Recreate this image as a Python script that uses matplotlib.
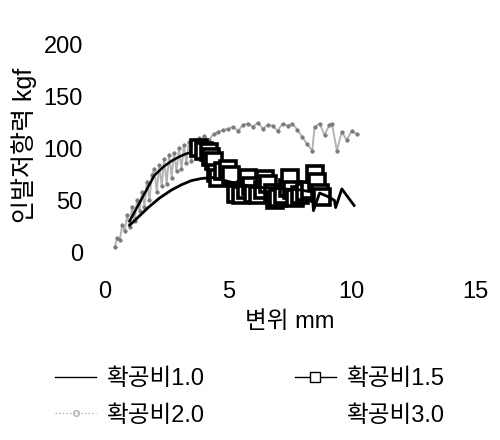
import matplotlib
matplotlib.use("Agg")
from matplotlib import pyplot as plt
from matplotlib.lines import Line2D

plt.rcParams['font.family'] = ['Liberation Sans', 'Noto Sans CJK KR']

# 확공비1.0 - solid black line
x_10 = [1.0, 1.4, 1.75, 2.2, 2.7, 3.1, 3.5, 3.9, 4.35, 4.7, 5.2, 5.8, 6.5, 7.2, 7.9, 8.4, 8.45, 8.7,
        9.0, 9.3, 9.35, 9.6, 10.1]
y_10 = [26, 35, 43, 52, 60, 65, 69, 71, 72, 70, 67, 64, 62, 61, 60, 58, 40, 57, 54, 50, 43, 61, 45]

# 확공비1.5 - black line with squares (squares only readable after the peak)
x_15 = [1.0, 1.5, 2.0, 2.4, 2.7, 3.0, 3.3, 3.6, 3.8, 4.0, 4.2, 4.3, 4.4, 4.5, 4.6, 4.8, 5.0, 5.1, 5.3,
        5.5, 5.7, 5.8, 5.9, 6.0, 6.2, 6.4, 6.5, 6.6, 6.8, 6.9, 7.0, 7.2, 7.4, 7.5, 7.6, 7.7, 7.9,
        8.1, 8.3, 8.5, 8.6, 8.7, 8.8]
y_15 = [30, 52, 74, 83, 88, 92, 95, 97, 100, 98, 97, 92, 88, 76, 72, 78, 80, 74, 56,
        55, 60, 72, 64, 56, 55, 60, 71, 66, 57, 50, 52, 55, 62, 72, 60, 52, 55,
        58, 60, 75, 68, 57, 53]
first_square = 8

# 확공비2.0 - grey stippled band
x_20 = [0.4, 0.5, 0.6, 0.7, 0.8, 0.9, 1.0, 1.1, 1.2, 1.3, 1.4, 1.5, 1.6, 1.7, 1.8, 1.9, 2.0, 2.1,
        2.2, 2.3, 2.4, 2.5, 2.6, 2.7, 2.8, 2.9, 3.0, 3.1, 3.2, 3.3, 3.4, 3.5, 3.6, 3.7, 3.8, 3.9,
        4.0, 4.2, 4.4, 4.6, 4.8, 5.0, 5.2, 5.4, 5.6, 5.8, 6.0, 6.2, 6.4, 6.6, 6.8, 7.0, 7.2, 7.4,
        7.6, 7.8, 8.0, 8.2, 8.4, 8.5, 8.7, 8.9, 9.1, 9.2, 9.4, 9.6, 9.8, 10.0, 10.2]
y_20 = [5, 14, 12, 26, 20, 36, 24, 44, 30, 50, 40, 58, 44, 68, 50, 74, 80, 58,
        84, 64, 90, 66, 94, 72, 96, 78, 100, 80, 103, 86, 106, 88, 108, 92, 110, 94,
        112, 108, 114, 116, 118, 119, 121, 117, 123, 124, 121, 125, 119,
        123, 122, 117, 124, 122, 124, 118, 111, 104, 98, 121, 124, 113, 123, 124, 98, 116,
        108, 117, 114]

# 확공비3.0 - not visible in the print
x_30 = []
y_30 = []

xticks = [0, 5, 10, 15]
yticks = [0, 50, 100, 150, 200]

fig = plt.figure(figsize=(5, 4.4), dpi=100)
ax = fig.add_axes([0.21, 0.427, 0.74, 0.471])

ax.plot(x_20, y_20, color="#b4b4b4", linestyle="-", linewidth=1.4,
        marker="o", markersize=2.5, markerfacecolor="#7a7a7a", markeredgecolor="#7a7a7a",
        markeredgewidth=0.5, label="확공비2.0")
ax.plot(x_15, y_15, color="black", linewidth=1.8,
        marker="s", markersize=11, markerfacecolor="white", markeredgecolor="black",
        markeredgewidth=2.6, markevery=slice(first_square, None), label="확공비1.5")
ax.plot(x_10, y_10, color="black", linewidth=2, label="확공비1.0")
ax.plot(x_30, y_30, color="none", label="확공비3.0")

ax.set_xlim(0, 15)
ax.set_ylim(0, 200)
ax.set_xticks(xticks)
ax.set_yticks(yticks)
ax.tick_params(length=0, labelsize=17)
ax.tick_params(axis="x", pad=21)
ax.tick_params(axis="y", pad=16)
for s in ax.spines.values():
    s.set_visible(False)

fig.text(24 / 500, 1 - 145 / 440, "인발저항력 kgf", rotation=90, ha="center", va="center", fontsize=18)
fig.text(290 / 500, 1 - 322 / 440, "변위 mm", ha="center", va="center", fontsize=17)

l15 = Line2D([], [], color="black", linewidth=1, marker="s", markersize=7,
             markerfacecolor="white", markeredgecolor="black")
l20 = Line2D([], [], color="#b0b0b0", linestyle=":", linewidth=1, marker="o", markersize=4,
             markerfacecolor="none", markeredgecolor="#b0b0b0")
l10 = Line2D([], [], color="black", linewidth=1)
l30 = Line2D([], [], color="none")
fig.legend([l10, l20, l15, l30], ["확공비1.0", "확공비2.0", "확공비1.5", "확공비3.0"],
           ncol=2, loc="upper left", bbox_to_anchor=(55 / 500, 1 - 368 / 440),
           frameon=False, fontsize=17, handlelength=1.75, handletextpad=0.45,
           columnspacing=3.8, labelspacing=0.62, borderpad=0, borderaxespad=0)

fig.savefig("out.png", dpi=100)
